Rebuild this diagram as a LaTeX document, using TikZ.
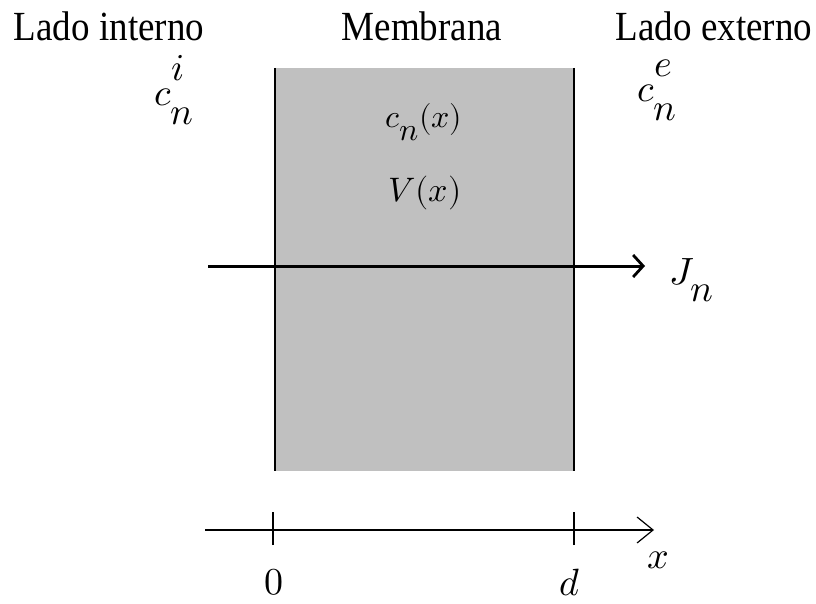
\documentclass[tikz,border=0pt]{standalone}
\usepackage{fontspec}
\setmainfont{Liberation Serif}
\usepackage{unicode-math}
\usetikzlibrary{arrows.meta}
\definecolor{memgray}{HTML}{C0C0C0}
\newcommand{\upscr}[1]{\raisebox{0.30em}{$#1$}}
\newcommand{\dnscr}[1]{\raisebox{-0.25em}{$#1$}}
\tikzset{
  title/.style={font=\fontsize{37}{40}\selectfont, yscale=1.12, transform shape, inner sep=0pt},
  mathlbl/.style={font=\fontsize{32}{36}\selectfont, inner sep=0pt},
  bigmath/.style={font=\fontsize{38}{42}\selectfont, inner sep=0pt},
  edge/.style={line width=1.3pt, black},
  flux/.style={line width=3pt, -{Straight Barb[length=10pt,width=22pt,line width=2.8pt]}},
  axis/.style={line width=1.2pt, -{Straight Barb[length=16pt,width=26pt,line width=1.2pt]}},
}
\begin{document}
\begin{tikzpicture}[x=1pt,y=-1pt]
\useasboundingbox (0,0) rectangle (816,604);
% membrane
\fill[memgray] (275,68) rectangle (574,471);
\draw[edge] (275,68) -- (275,471);
\draw[edge] (574,68) -- (574,471);
% titles
\node[title] (li) at (109,26) {Lado interno};
\node[title] (mb) at (422,26) {Membrana};
\node[title] (le) at (714,26) {Lado externo};
% concentrations
\node[bigmath] (ci) at (174,90) {$c^{\upscr{i}}_{\dnscr{n}}$};
\node[bigmath] (ce) at (657,90) {$c^{\upscr{e}}_{\dnscr{n}}$};
\node[mathlbl] (cn) at (424,122) {$c_{\raisebox{-0.15em}{$n$}}(x)$};
\node[mathlbl, font=\fontsize{34}{38}\selectfont] (vx) at (425,193) {$V(x)$};
% flux
\coordinate (fs) at (208,266);
\coordinate (fe) at (645,266);
\draw[flux] (fs) -- (fe);
\node[bigmath] (jn) at (692,280) {$J_{\raisebox{-0.2em}{$n$}}$};
% axis
\coordinate (as) at (205,530);
\coordinate (ae) at (654,530);
\draw[axis] (as) -- (ae);
\coordinate (t0) at (273,530);
\coordinate (td) at (574,530);
\draw[line width=1.2pt] ([yshift=-15pt]t0) -- ([yshift=18pt]t0);
\draw[line width=1.2pt] ([yshift=-15pt]td) -- ([yshift=18pt]td);
\node[bigmath] (l0) at (274,582) {$0$};
\node[bigmath] (ld) at (570,583) {$d$};
\node[bigmath] (lx) at (658,560) {$x$};
\end{tikzpicture}
\end{document}
